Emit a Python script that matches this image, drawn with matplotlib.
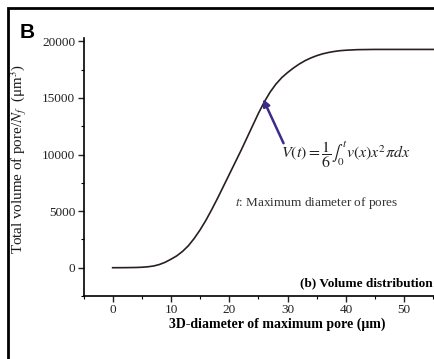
import numpy as np
import matplotlib
matplotlib.use("Agg")
import matplotlib.pyplot as plt
from matplotlib.patches import Rectangle

plt.rcParams['font.family'] = ['Liberation Serif', 'DejaVu Serif']
plt.rcParams['mathtext.fontset'] = 'stix'

# values
diameter = [0, 2, 4, 5, 6, 7, 8, 9, 10, 11, 12, 13, 14, 15, 16, 17, 18, 19,
            20, 21, 22, 23, 24, 25, 26, 27, 28, 29, 30, 31, 32, 33, 34, 35,
            36, 37, 38, 39, 40, 42, 45, 50, 55]
volume = [0, 5, 20, 40, 80, 150, 280, 480, 750, 1050, 1450, 1950, 2600, 3350,
          4200, 5150, 6150, 7200, 8250, 9300, 10350, 11450, 12550, 13650,
          14650, 15520, 16230, 16800, 17250, 17650, 18000, 18300, 18540,
          18740, 18900, 19020, 19110, 19180, 19220, 19270, 19290, 19290, 19290]

x_ticks = [0, 10, 20, 30, 40, 50]
y_ticks = [0, 5000, 10000, 15000, 20000]

fig = plt.figure(figsize=(4.34, 3.59), dpi=100)
ax = fig.add_axes([83.5 / 434, 1 - 296 / 359, 1 - 83.5 / 434, (296 - 38) / 359])

ax.plot(diameter, volume, color='#2a1f1f', lw=1.2)

ax.set_xlim(-5, 55.1)
ax.set_ylim(-2500, 20300)
ax.set_xticks(x_ticks)
ax.set_yticks(y_ticks)
ax.set_xticks(np.arange(-5, 56, 5), minor=True)
ax.set_yticks(np.arange(-2500, 20001, 2500), minor=True)
ax.tick_params(which='major', direction='out', length=4, width=1, labelsize=9.5,
               colors='#222222', pad=2)
ax.tick_params(which='minor', direction='out', length=2, width=0.8)
for s in ['top', 'right']:
    ax.spines[s].set_visible(False)
for s in ['left', 'bottom']:
    ax.spines[s].set_linewidth(1.2)

ax.set_xlabel('3D-diameter of maximum pore (\u03bcm)', fontsize=10,
              fontweight='bold')
ax.xaxis.set_label_coords(0.552, -0.085)
ax.set_ylabel('Total volume of pore/$N_f$  (\u03bcm$^3$)', fontsize=10.8,
              color='#1a1a1a')
ax.yaxis.set_label_coords(-0.155, 0.53)

# formula and arrow
ax.annotate('', xy=(25.8, 14900), xytext=(29.3, 11000),
            arrowprops=dict(arrowstyle='-|>', color='#3d2b8c', lw=1.8,
                            mutation_scale=10, shrinkA=0, shrinkB=0))
ax.text(28.9, 10000, r'$V(t)=\dfrac{1}{6}\int_0^t v(x)x^2\pi dx$', fontsize=11.5,
        va='center', ha='left', color='#222222')
ax.text(21.0, 5700, '$t$: Maximum diameter of pores', fontsize=9.5,
        va='center', ha='left', color='#333333')
ax.text(54.8, -1400, '(b) Volume distribution', fontsize=9.5,
        fontweight='bold', va='center', ha='right')

# panel letter and outer frame
fig.text(20 / 434, 1 - 32 / 359, 'B', fontsize=15, fontweight='bold',
         family='Liberation Sans', va='center', ha='left')
fig.patches.append(Rectangle((8 / 434, -0.05), 1.0, 1.05 - 8 / 359,
                             transform=fig.transFigure, fill=False,
                             edgecolor='black', lw=2, figure=fig))

fig.savefig('out.png', dpi=100)
